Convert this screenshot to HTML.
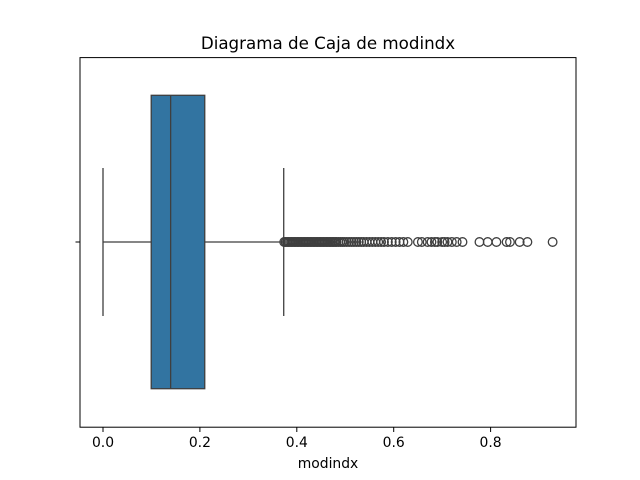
<!DOCTYPE html>
<html><head><meta charset="utf-8"><style>body{margin:0;background:#fff}svg{display:block;font-family:"DejaVu Sans","Liberation Sans",sans-serif}</style></head>
<body>
<svg id="c" width="640" height="480" viewBox="0 0 640 480">
<rect width="640" height="480" fill="#fff"/>
<text x="328" y="49" font-size="16.7" text-anchor="middle" fill="#000">Diagrama de Caja de modindx</text>
<g id="plot"></g>
<rect x="80" y="57.6" width="496" height="369.6" fill="none" stroke="#000" stroke-width="1"/>
<line x1="75.5" x2="80" y1="242" y2="242" stroke="#000"/>
<g id="xticks"></g>
<text x="328" y="468" font-size="13.9" text-anchor="middle" fill="#000">modindx</text>
</svg>
<script>
const tickValues=[0,0.2,0.4,0.6,0.8];
const tickLabels=["0.0","0.2","0.4","0.6","0.8"];
const stats=[0.0,0.0995,0.1396,0.210,0.373];
const outliers=[0.374,0.377,0.380,0.383,0.386,0.389,0.392,0.395,0.398,0.401,0.404,0.407,0.410,0.413,0.416,0.419,0.422,0.425,0.428,0.431,0.434,0.437,0.440,0.443,0.446,0.449,0.452,0.455,0.458,0.461,0.464,0.467,0.470,0.473,0.476,0.479,0.482,0.486,0.490,0.494,0.498,0.503,0.508,0.513,0.518,0.523,0.528,0.533,0.538,0.544,0.550,0.556,0.562,0.568,0.574,0.580,0.588,0.596,0.604,0.612,0.620,0.629,0.650,0.658,0.670,0.678,0.685,0.690,0.700,0.705,0.711,0.720,0.730,0.742,0.777,0.794,0.812,0.833,0.840,0.860,0.876,0.928];
const NS="http://www.w3.org/2000/svg";
const x=v=>103+v*484.5;
const cy=242;
function mk(t,a,p){const e=document.createElementNS(NS,t);for(const k in a)e.setAttribute(k,a[k]);p.appendChild(e);return e;}
const plot=document.getElementById('plot');
const col="#3f3f3f";
let e;
e=mk('line',{x1:x(stats[0]),x2:x(stats[1]),y1:cy,y2:cy,stroke:col,'stroke-width':1.3},plot);

e=mk('line',{x1:x(stats[3]),x2:x(stats[4]),y1:cy,y2:cy,stroke:col,'stroke-width':1.3},plot);

e=mk('line',{x1:x(stats[0]),x2:x(stats[0]),y1:168,y2:316,stroke:col,'stroke-width':1.3},plot);

e=mk('line',{x1:x(stats[4]),x2:x(stats[4]),y1:168,y2:316,stroke:col,'stroke-width':1.3},plot);

e=mk('rect',{x:x(stats[1]),y:95.3,width:x(stats[3])-x(stats[1]),height:293.4,fill:"#3274a1",stroke:col,'stroke-width':1.3},plot);

e=mk('line',{x1:x(stats[2]),x2:x(stats[2]),y1:95.3,y2:388.7,stroke:col,'stroke-width':1.3},plot);

outliers.forEach(v=>{const c=mk('circle',{cx:x(v),cy:cy,r:4.3,fill:"none",stroke:col,'stroke-width':1.3},plot);

});
const xt=document.getElementById('xticks');
tickValues.forEach((v,i)=>{
const l=mk('line',{x1:x(v),x2:x(v),y1:427.2,y2:432,stroke:"#000"},xt);


const t=mk('text',{x:x(v),y:447,'font-size':13.9,'text-anchor':'middle',fill:'#000'},xt);
t.textContent=tickLabels[i];


});
</script>
</body></html>
